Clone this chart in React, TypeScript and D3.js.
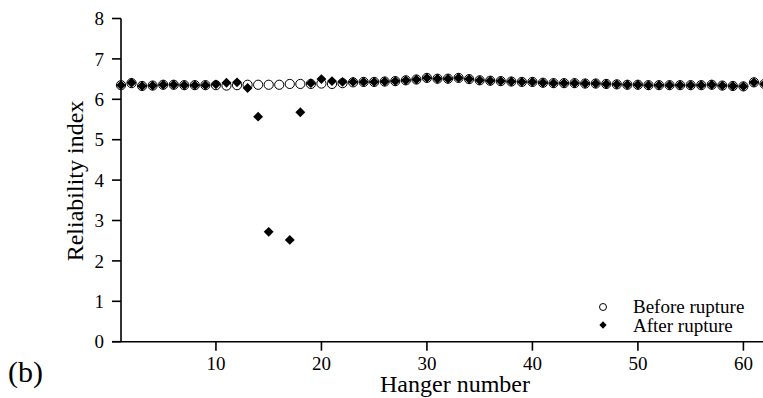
import React from "react";
import * as d3 from "d3";

const hangers: number[] = d3.range(1, 63);
const beforeRupture: number[] = [
  6.35, 6.40, 6.33, 6.34, 6.36, 6.36, 6.35, 6.35, 6.35, 6.35,
  6.34, 6.35, 6.36, 6.36, 6.36, 6.36, 6.38, 6.38, 6.38, 6.39,
  6.38, 6.40, 6.42, 6.43, 6.43, 6.44, 6.45, 6.47, 6.49, 6.53,
  6.51, 6.51, 6.53, 6.50, 6.47, 6.46, 6.45, 6.44, 6.43, 6.43,
  6.41, 6.40, 6.40, 6.40, 6.39, 6.39, 6.38, 6.37, 6.36, 6.36,
  6.35, 6.35, 6.35, 6.35, 6.35, 6.35, 6.36, 6.34, 6.33, 6.32,
  6.42, 6.38,
];
const afterRupture: (number | null)[] = [
  6.35, 6.41, 6.33, 6.34, 6.36, 6.36, 6.35, 6.35, 6.35, 6.37,
  6.41, 6.42, 6.28, 5.57, 2.72, null, 2.52, 5.68, 6.40, 6.50,
  6.45, 6.43, 6.43, 6.43, 6.43, 6.44, 6.45, 6.47, 6.49, 6.53,
  6.51, 6.51, 6.53, 6.50, 6.47, 6.46, 6.45, 6.44, 6.43, 6.43,
  6.41, 6.40, 6.40, 6.40, 6.39, 6.39, 6.38, 6.37, 6.36, 6.36,
  6.35, 6.35, 6.35, 6.35, 6.35, 6.35, 6.36, 6.34, 6.33, 6.32,
  6.42, 6.38,
];
const xTicks: number[] = [10, 20, 30, 40, 50, 60];
const yTicks: number[] = [0, 1, 2, 3, 4, 5, 6, 7, 8];
const legendLabels: string[] = ["Before rupture", "After rupture"];

const W = 763;
const H = 398;
const FONT = "'Liberation Serif', 'Times New Roman', serif";

export default function App() {
  const x = d3.scaleLinear().domain([1, 62]).range([121, 764.5]);
  const y = d3.scaleLinear().domain([0, 8]).range([341.7, 18.5]);
  const diamond = d3.symbol().type(d3.symbolDiamond2).size(62)();
  const diamondLegend = d3.symbol().type(d3.symbolDiamond2).size(34)();

  return (
    <svg
      width={W}
      height={H}
      style={{ position: "absolute", left: 0, top: 0, background: "#fff" }}
      fontFamily={FONT}
    >
      <rect width={W} height={H} fill="#fff" />
      {/* axes */}
      <line x1={112} x2={W} y1={y(0)} y2={y(0)} stroke="#000" strokeWidth={1.6} />
      <line x1={x(1)} x2={x(1)} y1={y(0)} y2={y(8)} stroke="#000" strokeWidth={1.6} />
      {yTicks.map((t) => (
        <g key={"y" + t}>
          <line x1={112} x2={x(1)} y1={y(t)} y2={y(t)} stroke="#000" strokeWidth={1.6} />
          <text x={104} y={y(t)} dy="0.35em" fontSize={19} textAnchor="end">
            {t}
          </text>
        </g>
      ))}
      {xTicks.map((t) => (
        <g key={"x" + t}>
          <line x1={x(t)} x2={x(t)} y1={y(0)} y2={y(0) + 9} stroke="#000" strokeWidth={1.6} />
          <text x={x(t)} y={370} fontSize={19} textAnchor="middle">
            {t}
          </text>
        </g>
      ))}
      {/* titles */}
      <text x={455} y={392} fontSize={24} textAnchor="middle">
        Hanger number
      </text>
      <text
        transform={`translate(83,181) rotate(-90)`}
        fontSize={24}
        textAnchor="middle"
      >
        Reliability index
      </text>
      <text x={8} y={382} fontSize={30}>
        (b)
      </text>
      {/* before rupture */}
      {hangers.map((h, i) => (
        <circle
          key={"b" + h}
          cx={x(h)}
          cy={y(beforeRupture[i])}
          r={4.6}
          fill="#fff"
          stroke="#000"
          strokeWidth={1}
        />
      ))}
      {/* after rupture */}
      {hangers.map((h, i) =>
        afterRupture[i] == null ? null : (
          <path
            key={"a" + h}
            d={diamond}
            transform={`translate(${x(h)},${y(afterRupture[i] as number)})`}
            fill="#000"
          />
        )
      )}
      {/* legend */}
      <circle cx={603} cy={307} r={3.5} fill="#fff" stroke="#000" strokeWidth={1} />
      <text x={633} y={313} fontSize={19}>
        {legendLabels[0]}
      </text>
      <path d={diamondLegend} transform="translate(603,325)" fill="#000" />
      <text x={633} y={332} fontSize={19}>
        {legendLabels[1]}
      </text>
    </svg>
  );
}
